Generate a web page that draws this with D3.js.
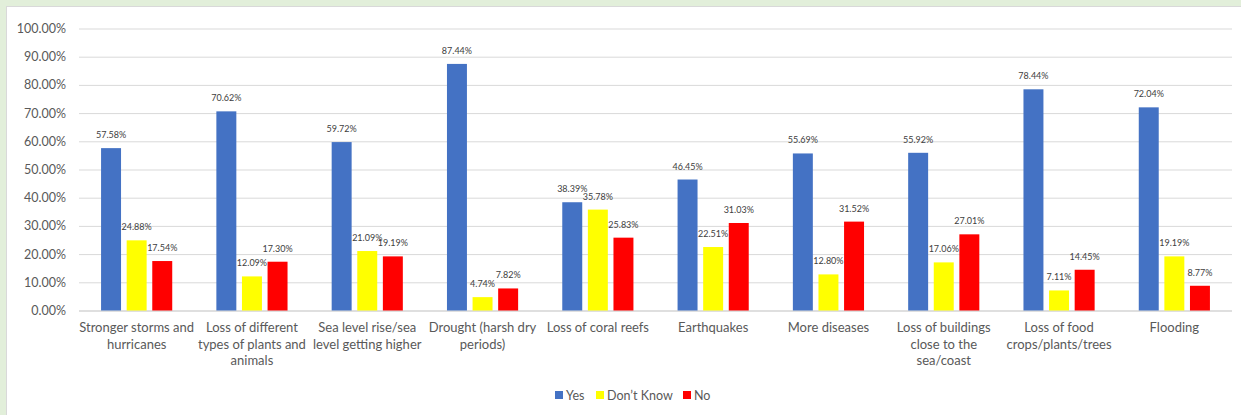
<!DOCTYPE html>
<html>
<head>
<meta charset="utf-8">
<script src="https://cdn.jsdelivr.net/npm/d3@7"></script>
<style>
  body { margin: 0; background: #e2efda; }
  svg { display: block; }
  text { font-family: Lato, "Open Sans", sans-serif; fill: #595959; }
</style>
</head>
<body>
<div id="chart"></div>
<script>
const categories = [
  "Stronger storms and|hurricanes",
  "Loss of different|types of plants and|animals",
  "Sea level rise/sea|level getting higher",
  "Drought (harsh dry|periods)",
  "Loss of coral reefs",
  "Earthquakes",
  "More diseases",
  "Loss of buildings|close to the|sea/coast",
  "Loss of food|crops/plants/trees",
  "Flooding",
];
const series = ["Yes", "Don\u2019t Know", "No"];
const yes = [57.58, 70.62, 59.72, 87.44, 38.39, 46.45, 55.69, 55.92, 78.44, 72.04];
const dontKnow = [24.88, 12.09, 21.09, 4.74, 35.78, 22.51, 12.8, 17.06, 7.11, 19.19];
const no = [17.54, 17.3, 19.19, 7.82, 25.83, 31.03, 31.52, 27.01, 14.45, 8.77];
const yTicks = [0, 10, 20, 30, 40, 50, 60, 70, 80, 90, 100];

const w = 1241;
const h = 415;
const colors = ["#4472c4", "#ffff00", "#ff0000"];
const values = [yes, dontKnow, no];

const svg = d3.select("#chart").append("svg").attr("width", w).attr("height", h);

// white chart area inside green frame
svg.append("rect")
  .attr("x", 6.5).attr("y", 6.5)
  .attr("width", w).attr("height", h)
  .attr("fill", "#fff").attr("stroke", "#d9d9d9");

const x0 = d3.scaleBand().domain(categories).range([79, 1232]).padding(0);
const x1 = d3.scaleBand().domain(series).range([0, x0.bandwidth()]).paddingInner(0.22).paddingOuter(0.862);
const y = d3.scaleLinear().domain([0, 100]).range([310.5, 28.5]);

// gridlines + y labels
const yAxis = svg.append("g")
  .attr("transform", "translate(79,0)")
  .call(d3.axisLeft(y).tickValues(yTicks).tickSize(-(1232 - 79)).tickPadding(13).tickFormat((d) => d.toFixed(2) + "%"));
yAxis.select(".domain").remove();
yAxis.selectAll(".tick line").attr("stroke", (d) => (d === 0 ? "#bfbfbf" : "#d9d9d9"));
yAxis.selectAll(".tick text").attr("font-size", 12.5).attr("fill", "#595959").style("font-family", "Lato, sans-serif");

const rows = categories.map((c, i) => series.map((s, j) => ({ cat: c, s: s, v: values[j][i], color: colors[j] })));

const groups = svg.append("g").selectAll("g")
  .data(rows)
  .enter()
  .append("g")
  .attr("transform", (d, i) => `translate(${x0(categories[i])},0)`);

groups.selectAll("rect")
  .data((d) => d)
  .enter()
  .append("rect")
  .attr("x", (d) => x1(d.s))
  .attr("y", (d) => y(d.v))
  .attr("width", x1.bandwidth())
  .attr("height", (d) => y(0) - y(d.v))
  .attr("fill", (d) => d.color);

groups.selectAll("text")
  .data((d) => d)
  .enter()
  .append("text")
  .attr("x", (d) => x1(d.s) + x1.bandwidth() / 2)
  .attr("y", (d) => y(d.v) - 10)
  .attr("text-anchor", "middle")
  .attr("font-size", 9)
  .style("fill", "#404040")
  .text((d) => d.v.toFixed(2) + "%");

// category labels
const xl = svg.append("g").selectAll("text")
  .data(categories)
  .enter()
  .append("text")
  .attr("x", (d) => x0(d) + x0.bandwidth() / 2)
  .attr("y", 332)
  .attr("text-anchor", "middle")
  .attr("font-size", 13);
xl.selectAll("tspan")
  .data((d) => d.split("|"))
  .enter()
  .append("tspan")
  .attr("x", function () { return this.parentNode.getAttribute("x"); })
  .attr("dy", (d, i) => (i === 0 ? 0 : 16.7))
  .text((d) => d);

// legend
const legendX = [555, 596, 683];
const legend = svg.append("g").selectAll("g")
  .data(series)
  .enter()
  .append("g")
  .attr("transform", (d, i) => `translate(${legendX[i]},391)`);
legend.append("rect").attr("width", 8).attr("height", 8).attr("fill", (d, i) => colors[i]);
legend.append("text").attr("x", 11).attr("y", 8.5).attr("font-size", 12.5).text((d) => d);
</script>
</body>
</html>
